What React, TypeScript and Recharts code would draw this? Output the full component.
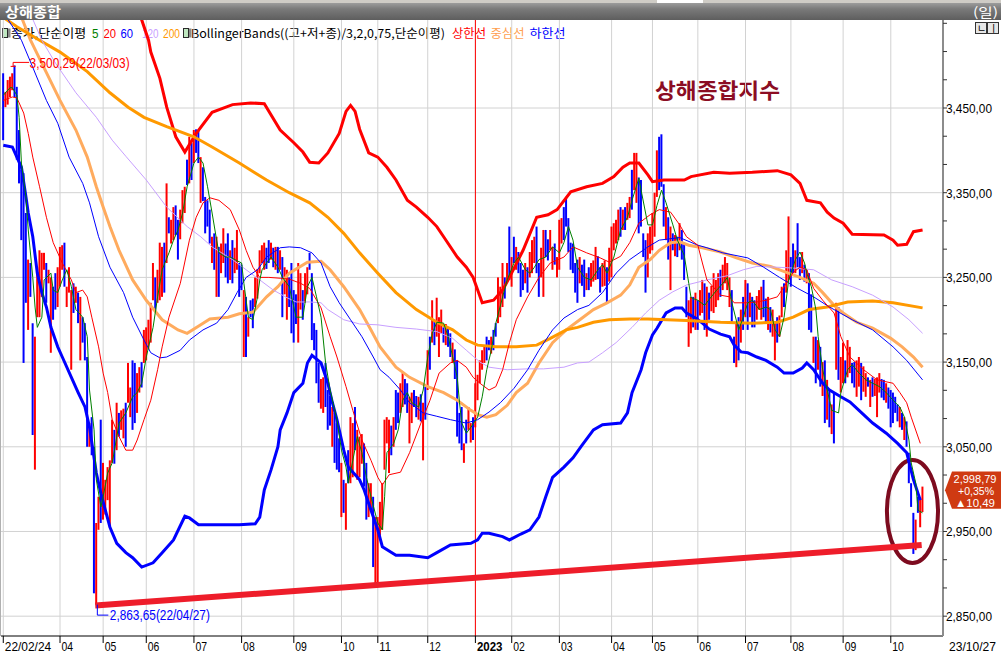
import React from "react";
import {
  ComposedChart,
  Bar,
  Cell,
  Line,
  XAxis,
  YAxis,
  CartesianGrid,
  ReferenceLine,
  ReferenceDot,
  ReferenceArea,
} from "recharts";

const FONT = "'Liberation Sans', 'Noto Sans CJK KR', sans-serif";
const KFONT = "'Noto Sans CJK KR', 'Liberation Sans', sans-serif";

// x = trading-day index (0 = 2022-02-24)
const xTickIndex = [0, 25, 44, 63, 84, 105, 128, 149, 165, 187, 208, 224, 245, 268, 286, 306, 327, 347, 370, 391];
const xTickLabels = ["22/02/24", "04", "05", "06", "07", "08", "09", "10", "11", "12", "2023", "02", "03", "04", "05", "06", "07", "08", "09", "10"];
const yLabelValues = [2850, 2950, 3050, 3150, 3250, 3350, 3450];
const lastDateLabel = "23/10/27";
const lastClose = 2998.79;
const lastCloseText = "2,998,79";
const lastPct = "+0,35%";
const lastChg = "▲10,49";
const highPoint = { i: 5, v: 3500.29, label: "3,500,29(22/03/03)" };
const lowPoint = { i: 41, v: 2863.65, label: "2,863,65(22/04/27)" };
const trendStart = { i: 40.5, v: 2862.5 };
const trendEnd = { i: 404.6, v: 2934 };
const circleBox = { i1: 389.3, i2: 411.8, v1: 2912.8, v2: 3034.4 };

// [index, high, low, up(1)/down(0)]
const candleRows: number[][] = [
  [0,3491,3412,0],[1,3469,3451,1],[2,3483,3454,1],[3,3487,3463,1],[4,3491,3471,1],[5,3500.29,3463,0],[6,3475,3389,0],[7,3424,3361,0],[8,3377,3294,0],[9,3373,3149,0],[10,3326,3220,0],[11,3271,3188,1],[12,3267,3227,0],[13,3196,3064,0],[14,3180,3023,1],[15,3262,3203,1],[16,3282,3203,1],[17,3279,3227,1],[18,3279,3259,1],[19,3267,3220,0],[20,3259,3243,1],[21,3250,3161,1],[22,3239,3200,0],[23,3255,3212,0],[24,3262,3215,1],[25,3286,3239,1],[26,3288,3259,1],[27,3291,3239,0],[28,3239,3215,1],[29,3262,3232,1],[30,3235,3141,1],[31,3243,3208,0],[32,3239,3220,1],[33,3232,3196,0],[34,3227,3152,1],[35,3203,3173,0],[36,3196,3152,0],[37,3156,3050,0],[38,3078,3050,1],[39,3085,3040,0],[40,3050,2877,0],[41,2960,2863.65,1],[42,2991,2952,1],[43,3082,2960,0],[44,3031,2964,1],[45,3011,2970,1],[46,3026,2987,1],[47,3034,2955,1],[48,3082,3031,1],[49,3070,3030,0],[50,3102,3046,1],[51,3090,3062,0],[52,3093,3070,1],[53,3095,3060,1],[54,3102,3050,0],[55,3149,3102,1],[56,3120,3085,1],[57,3152,3070,0],[58,3149,3078,0],[59,3137,3090,1],[60,3144,3114,1],[61,3150,3120,0],[62,3188,3149,1],[63,3191,3152,1],[64,3200,3165,1],[65,3220,3173,1],[66,3267,3223,1],[67,3250,3210,0],[68,3259,3220,1],[69,3291,3223,1],[70,3286,3227,1],[71,3291,3232,0],[72,3361,3267,1],[73,3321,3302,0],[74,3318,3290,1],[75,3333,3294,1],[76,3335,3300,0],[77,3318,3271,0],[78,3330,3295,1],[79,3353,3314,1],[80,3357,3326,1],[81,3389,3359,0],[82,3416,3361,1],[83,3409,3365,0],[84,3424,3385,1],[85,3424.84,3397,0],[86,3424,3385,0],[87,3392,3338,1],[88,3380,3340,0],[89,3345,3302,0],[90,3341,3310,0],[91,3330,3290,0],[92,3298,3267,1],[93,3302,3259,0],[94,3298,3227,1],[95,3286,3227,0],[96,3290,3255,1],[97,3308,3267,1],[98,3290,3250,0],[99,3302,3243,0],[100,3282,3247,1],[101,3294,3243,0],[102,3285,3255,1],[103,3306,3259,1],[104,3267,3227,0],[105,3265,3235,0],[106,3235,3156,1],[107,3227,3156,0],[108,3203,3180,1],[109,3223,3203,0],[110,3225,3190,0],[111,3250,3215,1],[112,3260,3225,1],[113,3282,3255,1],[114,3288,3267,1],[115,3291,3259,1],[116,3285,3260,0],[117,3294,3267,0],[118,3291,3271,1],[119,3285,3262,0],[120,3286,3259,1],[121,3286,3255,0],[122,3282,3259,1],[123,3274,3203,0],[124,3262,3230,1],[125,3259,3200,1],[126,3250,3215,0],[127,3267,3184,0],[128,3235,3173,0],[129,3230,3195,0],[130,3267,3173,1],[131,3255,3212,1],[132,3235,3200,0],[133,3255,3220,1],[134,3262,3230,1],[135,3279,3259,0],[136,3255,3176,0],[137,3196,3164,0],[138,3188,3125,0],[139,3149,3102,0],[140,3130,3095,1],[141,3132,3090,1],[142,3149,3097,0],[143,3117,3070,0],[144,3110,3075,0],[145,3097,3050,1],[146,3090,3031,0],[147,3078,3023,0],[148,3060,3020,0],[149,3031,2967,1],[150,3011,2972,0],[151,3007,2952,1],[152,3046,3007,0],[153,3085,3007,1],[154,3078,3014,1],[155,3097,3046,0],[156,3070,3011,1],[157,3062,3014,1],[158,3065,3030,1],[159,3054,3003,0],[160,3031,2964,0],[161,3007,2967,1],[162,3007,2975,1],[163,2991,2908,0],[164,2967,2889,1],[165,2967,2885.09,1],[166,2985,2945,1],[167,3007,2952,1],[168,3082,3023,1],[169,3085,3054,1],[170,3082,3019,1],[171,3075,3040,0],[172,3085,3050,1],[173,3117,3070,0],[174,3114,3078,0],[175,3125,3090,1],[176,3137,3097,1],[177,3130,3100,0],[178,3125,3090,0],[179,3109,3054,1],[180,3114,3078,1],[181,3117,3097,0],[182,3110,3085,0],[183,3109,3082,1],[184,3112,3080,0],[185,3102,3034,1],[186,3121,3082,0],[187,3164,3117,1],[188,3180,3141,0],[189,3223,3173,1],[190,3200,3170,0],[191,3226,3180,1],[192,3203,3156,1],[193,3212,3184,1],[194,3191,3173,0],[195,3195,3170,1],[196,3191,3168,0],[197,3184,3156,0],[198,3173,3149,1],[199,3165,3130,0],[200,3152,3062,0],[201,3090,3054,0],[202,3097,3046,0],[203,3054,3031,1],[204,3082,3054,0],[205,3097,3070,1],[206,3078,3055,1],[207,3085,3058,0],[208,3125,3073,1],[209,3135,3105,1],[210,3152,3125,1],[211,3164,3141,1],[212,3168,3149,1],[213,3180,3152,0],[214,3176,3164,0],[215,3180,3160,1],[216,3188,3164,0],[217,3196,3180,0],[218,3250,3196,1],[219,3239,3203,1],[220,3267,3215,1],[221,3250,3225,0],[222,3267,3247,1],[223,3310,3247,0],[224,3274,3239,1],[225,3298,3267,0],[226,3286,3259,1],[227,3280,3255,0],[228,3267,3227,0],[229,3259,3235,0],[230,3267,3243,1],[231,3262,3232,0],[232,3280,3250,1],[233,3294,3255,1],[234,3298,3267,1],[235,3310,3255,0],[236,3267,3227,0],[237,3285,3250,1],[238,3306,3227,1],[239,3306,3274,0],[240,3295,3270,0],[241,3306,3282,1],[242,3286,3259,1],[243,3290,3265,0],[244,3274,3250,1],[245,3318,3259,1],[246,3320,3290,1],[247,3333,3294,0],[248,3345,3310,0],[249,3320,3280,0],[250,3291,3259,0],[251,3290,3255,0],[252,3267,3232,0],[253,3271,3220,0],[254,3274,3243,1],[255,3265,3240,0],[256,3271,3227,0],[257,3255,3235,1],[258,3262,3235,0],[259,3267,3239,1],[260,3270,3245,1],[261,3286,3247,1],[262,3275,3248,0],[263,3262,3232,0],[264,3267,3239,1],[265,3270,3240,1],[266,3262,3220,0],[267,3285,3245,1],[268,3310,3250,1],[269,3314,3282,1],[270,3318,3290,1],[271,3330,3294,1],[272,3333,3298,0],[273,3330,3306,1],[274,3333,3306,0],[275,3338,3318,1],[276,3345,3320,1],[277,3377,3330,0],[278,3397,3353,1],[279,3397,3338,1],[280,3368,3302,0],[281,3365,3310,0],[282,3302,3274,0],[283,3294,3232,0],[284,3302,3250,1],[285,3310,3278,1],[286,3326,3282,1],[287,3350,3298,1],[288,3400,3345,1],[289,3416,3353,0],[290,3418.95,3357,0],[291,3360,3310,0],[292,3333,3294,1],[293,3321,3271,0],[294,3310,3235,1],[295,3302,3282,0],[296,3300,3275,1],[297,3298,3274,0],[298,3314,3282,1],[299,3306,3271,0],[300,3291,3247,0],[301,3239,3203,0],[302,3223,3168,1],[303,3227,3184,1],[304,3227,3191,0],[305,3232,3188,1],[306,3223,3188,0],[307,3235,3205,1],[308,3247,3208,1],[309,3243,3188,0],[310,3239,3180,1],[311,3232,3200,0],[312,3240,3210,1],[313,3255,3208,1],[314,3247,3215,1],[315,3255,3223,1],[316,3259,3227,0],[317,3265,3235,1],[318,3274,3243,1],[319,3267,3235,1],[320,3250,3215,1],[321,3235,3195,0],[322,3180,3149,0],[323,3196,3144,1],[324,3203,3152,0],[325,3212,3173,1],[326,3227,3188,0],[327,3247,3203,1],[328,3243,3188,0],[329,3232,3203,1],[330,3227,3191,0],[331,3223,3191,0],[332,3228,3200,1],[333,3235,3212,1],[334,3239,3200,1],[335,3247,3203,0],[336,3225,3195,0],[337,3227,3188,1],[338,3215,3185,0],[339,3212,3180,1],[340,3196,3152,1],[341,3203,3173,0],[342,3205,3180,1],[343,3239,3203,1],[344,3243,3215,0],[345,3282,3232,1],[346,3322,3247,1],[347,3274,3239,0],[348,3290,3255,0],[349,3282,3255,1],[350,3314,3262,0],[351,3274,3247,0],[352,3280,3255,1],[353,3265,3245,0],[354,3259,3243,1],[355,3255,3188,0],[356,3230,3185,0],[357,3180,3149,1],[358,3180,3125,0],[359,3176,3141,1],[360,3168,3121,0],[361,3150,3110,1],[362,3152,3078,0],[363,3129,3082,1],[364,3117,3073,0],[365,3100,3065,1],[366,3114,3054,0],[367,3220,3141,1],[368,3215,3129,0],[369,3156,3114,1],[370,3173,3125,1],[371,3152,3125,0],[372,3176,3132,1],[373,3168,3137,1],[374,3149,3125,0],[375,3150,3120,0],[376,3152,3109,1],[377,3156,3121,1],[378,3149,3105,0],[379,3145,3115,1],[380,3137,3109,1],[381,3132,3121,0],[382,3129,3097,1],[383,3132,3109,0],[384,3130,3110,1],[385,3132,3085,1],[386,3137,3114,1],[387,3130,3108,0],[388,3129,3105,0],[389,3125,3102,1],[390,3120,3095,0],[391,3117,3073,0],[392,3114,3078,0],[393,3109,3090,0],[394,3100,3080,0],[395,3097,3073,1],[396,3090,3070,0],[397,3085,3058,1],[398,3080,3050,0],[399,3043,3007,0],[400,3007,2979,0],[401,2972,2923.5,0],[402,2964,2928,1],[403,2991,2972,0],[404,2990,2955,1],[405,3003,2973,1],
];

const ma5Rows: number[][] = [
  [0,3465],[3,3474],[4,3474],[6,3465],[7,3439],[8,3385],[10,3345],[11,3306],[13,3250],[14,3215],[15,3191],[17,3203],[18,3247],[21,3255],[22,3235],[24,3232],[26,3247],[28,3259],[30,3239],[32,3212],[35,3203],[37,3180],[38,3117],[40,3070],[41,3011],[43,2979],[44,2991],[46,3019],[48,3031],[49,3046],[51,3078],[54,3090],[57,3109],[59,3114],[61,3125],[63,3156],[66,3191],[68,3227],[70,3259],[73,3279],[75,3294],[77,3306],[79,3326],[81,3357],[84,3385],[86,3392],[88,3385],[90,3357],[92,3326],[94,3294],[95,3279],[98,3274],[100,3274],[102,3271],[105,3267],[106,3243],[108,3203],[110,3200],[112,3227],[113,3247],[114,3259],[116,3267],[118,3274],[121,3262],[123,3250],[126,3239],[129,3203],[132,3203],[134,3239],[136,3250],[138,3227],[140,3203],[142,3149],[144,3117],[147,3082],[149,3046],[151,3026],[152,3007],[154,3034],[156,3062],[158,3043],[160,3014],[162,2991],[165,2960],[167,2952],[168,2991],[169,3043],[172,3054],[174,3070],[176,3105],[178,3114],[180,3102],[183,3097],[185,3117],[187,3156],[189,3184],[191,3197],[194,3196],[196,3180],[198,3156],[200,3132],[201,3102],[202,3078],[204,3066],[206,3073],[209,3085],[211,3109],[213,3141],[215,3164],[217,3196],[220,3227],[222,3247],[225,3267],[227,3274],[230,3259],[232,3255],[234,3262],[236,3271],[239,3274],[242,3286],[245,3279],[247,3291],[249,3310],[251,3294],[253,3262],[256,3250],[259,3247],[262,3259],[264,3265],[266,3255],[269,3274],[272,3306],[275,3321],[277,3341],[280,3367],[281,3353],[284,3312],[286,3312],[288,3335],[290,3353],[292,3338],[295,3312],[297,3294],[300,3276],[302,3243],[303,3226],[306,3223],[309,3217],[311,3224],[314,3234],[317,3243],[319,3250],[321,3220],[324,3188],[326,3203],[328,3220],[330,3223],[333,3212],[336,3215],[338,3212],[340,3188],[342,3180],[344,3203],[346,3247],[349,3271],[351,3280],[353,3267],[354,3255],[356,3239],[358,3212],[359,3180],[361,3141],[363,3117],[365,3093],[368,3090],[369,3114],[372,3141],[374,3147],[377,3137],[380,3129],[383,3125],[386,3121],[389,3114],[392,3105],[395,3097],[397,3085],[399,3058],[400,3031],[402,3007],[403,2975],[405,2972],
];

const ma20Rows: number[][] = [
  [0,3459],[4,3463],[6,3462],[9,3444],[11,3420],[13,3392],[16,3357],[19,3321],[22,3291],[26,3267],[30,3247],[32,3232],[35,3235],[37,3227],[39,3203],[42,3168],[44,3137],[46,3114],[48,3082],[51,3062],[54,3046],[57,3046],[59,3058],[62,3082],[65,3105],[68,3141],[70,3168],[73,3203],[78,3243],[82,3294],[85,3321],[88,3338],[91,3344],[95,3341],[100,3330],[104,3306],[107,3282],[110,3262],[113,3250],[117,3250],[122,3249],[126,3248],[131,3243],[135,3237],[140,3214],[144,3180],[147,3156],[151,3121],[154,3093],[158,3058],[162,3034],[165,3014],[167,3005],[170,3017],[175,3020],[179,3043],[184,3078],[188,3105],[192,3137],[197,3149],[200,3152],[204,3144],[207,3132],[210,3125],[214,3117],[217,3121],[220,3141],[223,3173],[226,3200],[231,3227],[236,3250],[241,3267],[247,3274],[251,3286],[257,3279],[263,3273],[267,3268],[272,3275],[276,3291],[280,3314],[285,3324],[289,3330],[294,3327],[298,3312],[301,3298],[306,3288],[308,3267],[310,3247],[316,3229],[320,3227],[322,3220],[328,3220],[332,3221],[336,3223],[341,3227],[345,3243],[348,3256],[351,3262],[354,3259],[357,3237],[361,3223],[366,3208],[369,3180],[373,3156],[379,3141],[385,3129],[392,3125],[395,3114],[398,3102],[400,3085],[404,3054],
];

const ma60Rows: number[][] = [
  [0,3563],[8,3530],[13,3498],[19,3459],[24,3432],[29,3392],[35,3361],[38,3338],[42,3298],[47,3262],[53,3232],[57,3203],[62,3176],[65,3161],[69,3155],[72,3156],[78,3164],[82,3176],[88,3188],[94,3196],[99,3212],[103,3232],[107,3250],[112,3259],[116,3274],[122,3285],[126,3286],[131,3285],[136,3279],[140,3267],[144,3239],[148,3220],[153,3200],[158,3180],[163,3156],[166,3141],[170,3132],[175,3117],[179,3102],[185,3090],[191,3086],[197,3082],[204,3078],[209,3082],[214,3091],[219,3102],[225,3119],[231,3141],[236,3164],[242,3188],[247,3202],[253,3212],[258,3217],[264,3232],[270,3255],[276,3271],[284,3286],[289,3294],[298,3297],[306,3288],[310,3285],[317,3279],[328,3273],[335,3262],[342,3250],[350,3237],[357,3227],[364,3215],[374,3200],[383,3188],[392,3168],[398,3152],[405,3129],
];

const ma120Rows: number[][] = [
  [12,3561],[17,3530],[23,3503],[32,3468],[41,3439],[48,3412],[54,3393],[63,3365],[72,3333],[81,3310],[87,3298],[92,3286],[101,3271],[107,3259],[113,3247],[119,3235],[125,3226],[129,3221],[135,3221],[140,3220],[143,3212],[150,3200],[157,3195],[165,3194],[173,3191],[182,3189],[191,3186],[198,3178],[204,3164],[210,3150],[214,3144],[222,3141],[231,3142],[238,3142],[247,3144],[253,3149],[258,3150],[264,3161],[270,3173],[277,3191],[283,3208],[289,3223],[295,3233],[301,3241],[310,3247],[319,3252],[326,3259],[332,3263],[341,3262],[348,3261],[357,3259],[365,3247],[374,3239],[383,3229],[392,3215],[399,3200],[405,3184],
];

const ma200Rows: number[][] = [
  [0,3557],[6,3546],[16,3530],[25,3516],[37,3493],[47,3468],[55,3451],[62,3439],[72,3428],[84,3416],[92,3404],[104,3385],[116,3365],[126,3350],[135,3338],[143,3321],[150,3302],[157,3279],[165,3255],[173,3232],[182,3212],[191,3197],[198,3188],[204,3176],[209,3170],[217,3168],[226,3168],[235,3170],[241,3178],[248,3188],[253,3191],[260,3197],[267,3200],[276,3201],[284,3201],[301,3199],[316,3197],[330,3196],[341,3197],[348,3203],[355,3212],[363,3215],[372,3221],[383,3222],[392,3220],[405,3214],
];

const bbUpperRows: number[][] = [
  [55,3580],[61,3554],[64,3530],[65,3516],[69,3485],[72,3451],[76,3416],[80,3398],[85,3420],[92,3445],[101,3454],[109,3456],[115,3455],[122,3424],[128,3409],[132,3398],[135,3386],[139,3385],[143,3397],[148,3420],[151,3446],[153,3453],[155,3446],[157,3425],[161,3397],[165,3392],[169,3380],[173,3365],[178,3341],[182,3333],[187,3321],[191,3310],[194,3298],[200,3274],[204,3262],[207,3250],[209,3235],[211,3220],[216,3223],[220,3235],[223,3250],[229,3282],[235,3321],[240,3324],[244,3330],[250,3351],[257,3357],[264,3361],[269,3369],[273,3380],[276,3385],[280,3385],[284,3371],[286,3363],[291,3365],[300,3365],[303,3369],[313,3374],[320,3373],[330,3374],[341,3376],[347,3371],[351,3361],[354,3341],[360,3338],[363,3327],[366,3320],[370,3314],[374,3301],[388,3300],[392,3294],[394,3288],[398,3289],[401,3304],[405,3306],
];

const bbMiddleRows: number[][] = [
  [5,3578],[12,3530],[25,3459],[32,3424],[37,3392],[41,3357],[44,3333],[47,3310],[51,3282],[57,3247],[63,3223],[70,3200],[77,3188],[81,3184],[87,3194],[91,3201],[99,3203],[104,3207],[110,3209],[116,3227],[121,3239],[126,3255],[134,3268],[140,3269],[144,3259],[150,3239],[157,3212],[162,3188],[166,3168],[173,3144],[179,3132],[187,3121],[194,3114],[200,3105],[206,3093],[209,3088],[213,3085],[217,3088],[222,3099],[226,3114],[231,3125],[236,3149],[242,3173],[248,3188],[254,3200],[260,3212],[266,3220],[272,3229],[276,3241],[280,3262],[285,3271],[289,3282],[294,3291],[298,3292],[302,3288],[308,3285],[316,3280],[323,3273],[330,3267],[338,3263],[345,3256],[351,3250],[357,3243],[361,3232],[366,3217],[370,3208],[376,3197],[383,3190],[391,3178],[396,3168],[401,3156],[405,3144],
];

const bbLowerRows: number[][] = [
  [0,3406],[4,3404],[6,3392],[8,3380],[10,3345],[11,3326],[13,3298],[15,3255],[17,3232],[19,3215],[21,3191],[24,3168],[26,3156],[30,3132],[33,3114],[36,3097],[38,3073],[41,3019],[43,2995],[45,2975],[47,2955],[50,2936],[54,2925],[57,2919],[61,2908],[66,2913],[70,2925],[75,2940],[80,2968],[82,2966],[86,2958],[104,2958],[111,2959],[113,2967],[115,2999],[118,3023],[121,3050],[122,3070],[125,3090],[128,3114],[132,3125],[134,3149],[136,3158],[140,3149],[143,3125],[145,3102],[147,3082],[150,3046],[152,3026],[157,3011],[159,2999],[162,2975],[165,2952],[167,2932],[173,2922],[179,2922],[187,2919],[191,2925],[197,2934],[206,2936],[209,2940],[211,2948],[214,2948],[220,2944],[223,2940],[228,2947],[232,2952],[236,2967],[239,2991],[242,3014],[247,3026],[251,3037],[255,3052],[260,3070],[264,3076],[272,3078],[275,3090],[277,3114],[281,3141],[283,3161],[286,3182],[288,3190],[292,3208],[296,3214],[299,3214],[301,3208],[305,3202],[308,3196],[311,3189],[316,3183],[320,3180],[322,3170],[325,3162],[328,3161],[332,3156],[336,3152],[341,3144],[344,3137],[348,3137],[352,3143],[354,3149],[357,3141],[361,3125],[364,3117],[369,3109],[373,3103],[377,3093],[383,3078],[389,3066],[394,3054],[398,3043],[401,3011],[403,2995],[404,2987],
];

const X_MIN = -1;
const X_MAX = 414;
const Y_MIN = 2826.6;
const Y_MAX = 3553.9;

const candles = candleRows
  .slice()
  .sort((a, b) => a[0] - b[0])
  .map(([i, hi, lo, up]) => ({ i, hi, lo, up }));

const toPts = (rows: number[][]) => rows.map(([i, v]) => ({ i, v }));

const yTicks: number[] = [];
yLabelValues.forEach((v) => {
  yTicks.push(v);
  yTicks.push(v + 100 / 3);
  yTicks.push(v + 200 / 3);
});
yTicks.push(3550);

const fmtPrice = (v: number) => {
  const r = Math.round(v);
  const th = Math.floor(r / 1000);
  const rest = String(r % 1000).padStart(3, "0");
  return `${th},${rest},00`;
};

const YTick = (props: any) => {
  const { x, y, payload } = props;
  const v = payload.value;
  const major = yLabelValues.some((m) => Math.abs(m - v) < 0.01);
  if (!major) return <g />;
  const s = fmtPrice(v);
  return (
    <text x={x - 1} y={y + 5} fontSize={13} fontFamily={FONT} fill="#000" textLength={46} lengthAdjust="spacingAndGlyphs">
      {s}
    </text>
  );
};

const XTick = (props: any) => {
  const { x, y, payload } = props;
  const k = xTickIndex.indexOf(payload.value);
  const label = k >= 0 ? xTickLabels[k] : "";
  const bold = label === "2023";
  return (
    <text
      x={x + 1.5}
      y={y + 8}
      fontSize={13.5}
      fontFamily={FONT}
      fontWeight={bold ? "bold" : "normal"}
      fill="#000"
      textLength={label.length * (bold ? 6.4 : 5.8)}
      lengthAdjust="spacingAndGlyphs"
    >
      {label}
    </text>
  );
};

const PriceTag = (props: any) => {
  const vb = props.viewBox || {};
  const left = (vb.x || 0) + (vb.width || 0) + 2;
  const cy = vb.y || 0;
  const h = 18.7;
  const w = 56;
  const d = `M${left},${cy} L${left + 7},${cy - h} L${left + w},${cy - h} L${left + w},${cy + h} L${left + 7},${cy + h} Z`;
  return (
    <g>
      <path d={d} fill="#cf3a12" />
      <text x={left + 8.5} y={cy - 7} fontSize={11.5} fontFamily={FONT} fill="#fff" textLength={43} lengthAdjust="spacingAndGlyphs">
        {lastCloseText}
      </text>
      <text x={left + 13} y={cy + 5} fontSize={11.5} fontFamily={FONT} fill="#fff" textLength={36} lengthAdjust="spacingAndGlyphs">
        {lastPct}
      </text>
      <text x={left + 10} y={cy + 16.5} fontSize={11.5} fontFamily={FONT} fill="#fff" textLength={40} lengthAdjust="spacingAndGlyphs">
        {lastChg}
      </text>
    </g>
  );
};

const HighMark = (props: any) => {
  const { cx, cy } = props;
  if (cx == null || cy == null) return <g />;
  const lx = cx - 1.5;
  const ly = cy - 3;
  return (
    <g>
      <line x1={cx - 4} y1={cy + 1} x2={cx + 1} y2={cy + 1} stroke="#ff0000" strokeWidth={1} />
      <line x1={lx} y1={cy + 1} x2={lx} y2={ly} stroke="#ff0000" strokeWidth={1} />
      <line x1={lx} y1={ly} x2={lx + 16} y2={ly} stroke="#ff0000" strokeWidth={1} />
      <text x={lx + 16.5} y={ly + 6} fontSize={14} fontFamily={FONT} fill="#ff0000" textLength={100} lengthAdjust="spacingAndGlyphs">
        {highPoint.label}
      </text>
    </g>
  );
};

const LowMark = (props: any) => {
  const { cx, cy } = props;
  if (cx == null || cy == null) return <g />;
  const lx = cx + 1;
  const ly = cy + 10.5;
  return (
    <g>
      <line x1={lx} y1={cy} x2={lx} y2={ly} stroke="#0000ff" strokeWidth={1} />
      <line x1={lx} y1={ly} x2={lx + 11} y2={ly} stroke="#0000ff" strokeWidth={1} />
      <text x={lx + 12.5} y={ly + 5} fontSize={14} fontFamily={FONT} fill="#0000ff" textLength={100} lengthAdjust="spacingAndGlyphs">
        {lowPoint.label}
      </text>
    </g>
  );
};

const EllipseShape = (props: any) => {
  const { x, y, width, height } = props;
  if (x == null) return <g />;
  return (
    <ellipse
      cx={x + width / 2}
      cy={y + height / 2}
      rx={Math.abs(width / 2)}
      ry={Math.abs(height / 2)}
      fill="none"
      stroke="#7d0b1f"
      strokeWidth={4}
    />
  );
};

const LegendIcon = ({ x }: { x: number }) => (
  <g>
    <rect x={x} y={28.5} width={5} height={9} fill="#bfe8c0" stroke="#2a2a2a" strokeWidth={1} />
    <rect x={x + 5.5} y={28.5} width={2.5} height={9} fill="#8a8a8a" />
  </g>
);

const lineProps = { dot: false, activeDot: false, isAnimationActive: false, type: "linear" as const, legendType: "none" as const };

export default function App() {
  return (
    <div style={{ position: "absolute", left: 0, top: 0, width: 1001, height: 656, background: "#fff", overflow: "hidden" }}>
      {/* legend row (drawn under the chart lines) */}
      <svg width={1001} height={656} style={{ position: "absolute", left: 0, top: 0 }}>
        <LegendIcon x={2.5} />
        <text x={10.8} y={37.5} fontSize={12.5} fontFamily={KFONT} fill="#000" textLength={75.5} lengthAdjust="spacingAndGlyphs">종가,단순이평</text>
        <text x={92} y={37.5} fontSize={12.5} fontFamily={FONT} fill="#008000" textLength={6.5} lengthAdjust="spacingAndGlyphs">5</text>
        <text x={103.5} y={37.5} fontSize={12.5} fontFamily={FONT} fill="#ff0000" textLength={12.5} lengthAdjust="spacingAndGlyphs">20</text>
        <text x={120.5} y={37.5} fontSize={12.5} fontFamily={FONT} fill="#0000ff" textLength={12.5} lengthAdjust="spacingAndGlyphs">60</text>
        <text x={142} y={37.5} fontSize={12} fontFamily={FONT} fill="#c8a0ff" textLength={16.5} lengthAdjust="spacingAndGlyphs">120</text>
        <text x={163} y={37.5} fontSize={12} fontFamily={FONT} fill="#ff9900" textLength={17} lengthAdjust="spacingAndGlyphs">200</text>
        <LegendIcon x={183.5} />
        <text x={191} y={37.5} fontSize={12} fontFamily={KFONT} fill="#000" textLength={254} lengthAdjust="spacingAndGlyphs">BollingerBands((고+저+종)/3,2,0,75,단순이평)</text>
        <text x={452} y={37.5} fontSize={12.5} fontFamily={KFONT} fill="#ff0000" textLength={34} lengthAdjust="spacingAndGlyphs">상한선</text>
        <text x={490.5} y={37.5} fontSize={12.5} fontFamily={KFONT} fill="#ffa050" textLength={34} lengthAdjust="spacingAndGlyphs">중심선</text>
        <text x={529.5} y={37.5} fontSize={12.5} fontFamily={KFONT} fill="#0000ff" textLength={36} lengthAdjust="spacingAndGlyphs">하한선</text>
        <text x={655} y={98} fontSize={21} fontWeight="bold" fontFamily={KFONT} fill="#8b0d23" textLength={125} lengthAdjust="spacingAndGlyphs">상해종합지수</text>
      </svg>

      <div style={{ position: "absolute", left: 0, top: 0 }}>
        <ComposedChart width={1001} height={656} data={candles} margin={{ top: 20, right: 0, bottom: 0, left: 1 }}>
          <CartesianGrid stroke="#d2d2d2" strokeWidth={1} horizontalValues={yLabelValues} verticalValues={xTickIndex} />
          <XAxis
            dataKey="i"
            type="number"
            domain={[X_MIN, X_MAX]}
            allowDataOverflow
            ticks={xTickIndex}
            interval={0}
            height={20}
            tickSize={7}
            tickMargin={0}
            axisLine={{ stroke: "#000", strokeWidth: 1 }}
            tickLine={{ stroke: "#000" }}
            tick={(p: any) => <XTick {...p} />}
          />
          <YAxis
            orientation="right"
            type="number"
            domain={[Y_MIN, Y_MAX]}
            allowDataOverflow
            ticks={yTicks}
            interval={0}
            width={58}
            tickSize={4}
            tickMargin={0}
            axisLine={{ stroke: "#8c8c8c", strokeWidth: 2 }}
            tickLine={{ stroke: "#333" }}
            tick={(p: any) => <YTick {...p} />}
          />
          <ReferenceLine x={208} stroke="#ff0000" strokeWidth={1} />
          <Bar dataKey={(d: any) => [d.lo, d.hi]} barSize={2} isAnimationActive={false} legendType="none">
            {candles.map((c, k) => (
              <Cell key={k} fill={c.up ? "#ff0000" : "#0000ff"} />
            ))}
          </Bar>
          <Line data={toPts(bbUpperRows)} dataKey="v" stroke="#ff0000" strokeWidth={3} {...lineProps} />
          <Line data={toPts(bbMiddleRows)} dataKey="v" stroke="#ffab5e" strokeWidth={3} {...lineProps} />
          <Line data={toPts(bbLowerRows)} dataKey="v" stroke="#0000ff" strokeWidth={3} {...lineProps} />
          <Line data={toPts(ma200Rows)} dataKey="v" stroke="#ff9900" strokeWidth={3} {...lineProps} />
          <Line data={toPts(ma120Rows)} dataKey="v" stroke="#c8a0ff" strokeWidth={1} {...lineProps} />
          <Line data={toPts(ma60Rows)} dataKey="v" stroke="#0000ff" strokeWidth={1} {...lineProps} />
          <Line data={toPts(ma20Rows)} dataKey="v" stroke="#ff0000" strokeWidth={1} {...lineProps} />
          <Line data={toPts(ma5Rows)} dataKey="v" stroke="#008000" strokeWidth={1} {...lineProps} />
          <ReferenceLine
            segment={[{ x: trendStart.i, y: trendStart.v }, { x: trendEnd.i, y: trendEnd.v }]}
            stroke="#ee1d2a"
            strokeWidth={6}
            ifOverflow="visible"
          />
          <ReferenceArea
            x1={circleBox.i1}
            x2={circleBox.i2}
            y1={circleBox.v1}
            y2={circleBox.v2}
            ifOverflow="visible"
            shape={(p: any) => <EllipseShape {...p} />}
          />
          <ReferenceDot x={highPoint.i} y={highPoint.v} r={0} ifOverflow="visible" shape={(p: any) => <HighMark {...p} />} />
          <ReferenceDot x={lowPoint.i} y={lowPoint.v} r={0} ifOverflow="visible" shape={(p: any) => <LowMark {...p} />} />
          <ReferenceLine y={lastClose} stroke="#000" strokeOpacity={0} ifOverflow="visible" label={<PriceTag />} />
        </ComposedChart>
      </div>

      {/* window chrome: toolbar strip, header, buttons, last date */}
      <svg width={1001} height={656} style={{ position: "absolute", left: 0, top: 0, pointerEvents: "none" }}>
        <defs>
          <linearGradient id="hdr" x1="0" y1="0" x2="0" y2="1">
            <stop offset="0" stopColor="#9c9c9c" />
            <stop offset="0.35" stopColor="#7a7a7a" />
            <stop offset="1" stopColor="#5e5e5e" />
          </linearGradient>
        </defs>
        <rect x={0} y={0} width={1001} height={4} fill="#cfccc6" />
        <rect x={657} y={0} width={46} height={3} fill="#fff" />
        <rect x={0} y={3} width={1001} height={17} fill="url(#hdr)" />
        <text x={5} y={17} fontSize={14} fontWeight="bold" fontFamily={KFONT} fill="#fff" textLength={56} lengthAdjust="spacingAndGlyphs">상해종합</text>
        <text x={973} y={17} fontSize={13} fontFamily={KFONT} fill="#fff" textLength={25} lengthAdjust="spacingAndGlyphs">(일)</text>
        <rect x={975.5} y={22.5} width={11} height={11} fill="#e6e6e6" stroke="#333" strokeWidth={1} />
        <rect x={987.5} y={22.5} width={11} height={11} fill="#e6e6e6" stroke="#333" strokeWidth={1} />
        <text x={977} y={32} fontSize={10} fontFamily={KFONT} fill="#000">ㄴ</text>
        <text x={989} y={32} fontSize={10} fontFamily={KFONT} fill="#000">ㅣ</text>
        <line x1={0.5} y1={20} x2={0.5} y2={636} stroke="#b0b0b0" strokeWidth={1} />
        <text x={949} y={650.5} fontSize={12.5} fontFamily={FONT} fill="#000" textLength={47} lengthAdjust="spacingAndGlyphs">{lastDateLabel}</text>
      </svg>
    </div>
  );
}
